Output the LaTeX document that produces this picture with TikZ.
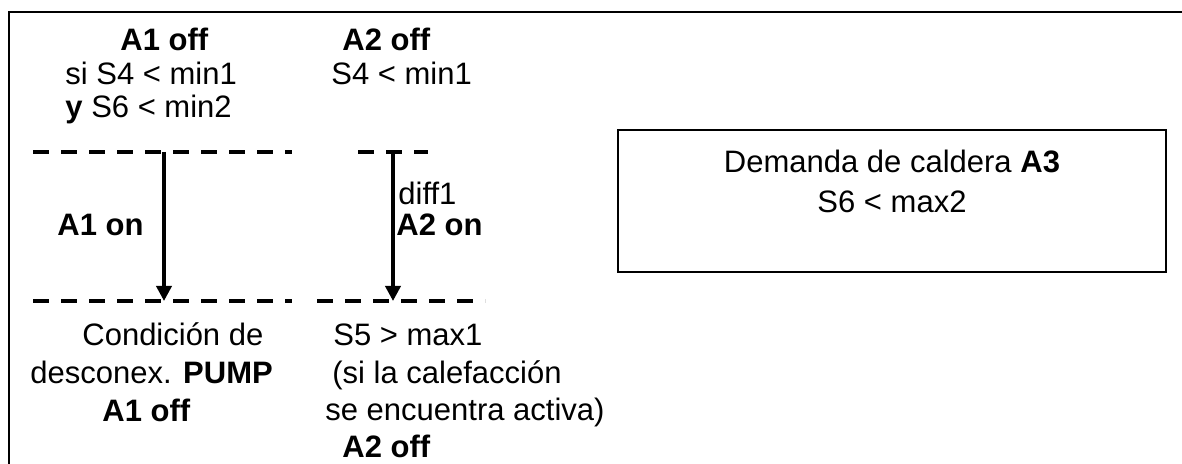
\documentclass[tikz,border=0pt]{standalone}
\usepackage{fontspec}
\setmainfont{Liberation Sans}
\usetikzlibrary{arrows.meta, positioning}

\begin{document}
\begin{tikzpicture}[x=0.5pt, y=-0.5pt,
                    txt/.style= {anchor=base west,
                      inner sep=0pt,
                      font=\fontsize{15.5}{18}\selectfont},
                    ctxt/.style= {txt,
                      anchor=base},
                    cut/.style= {line width=2pt,
                      dash pattern=on 8pt off 6pt},
                    flow/.style= {line width=1.8pt,
                      -{Triangle[length=7.5pt, width=7.5pt]}},
                    frame/.style= {draw,
                      line width=1pt,
                      minimum width=274pt,
                      minimum height=71pt}]

  \useasboundingbox (0,0) rectangle (1182,464);
  \draw[line width=1pt] (1182,12) -| (9,464);

  % upper conditions
  \node[txt] (a1off) at (120,51) {\textbf{A1 off}};
  \node[txt] (a1min) at (65,85) {si S4 < min1};
  \node[txt] (a1and) at (65,118) {\textbf{y} S6 < min2};
  \node[txt] (a2off) at (342,51) {\textbf{A2 off}};
  \node[txt] (a2min) at (331,85) {S4 < min1};

  % thresholds
  \coordinate (up1a) at (33,152);
  \coordinate (up1b) at (292,152);
  \coordinate (up2a) at (358,152);
  \coordinate (up2b) at (428,152);
  \coordinate (lo1a) at (33,301);
  \coordinate (lo1b) at (292,301);
  \coordinate (lo2a) at (317,301);
  \coordinate (lo2b) at (485,301);
  \draw[cut] (up1a) -- (up1b);
  \draw[cut] (up2a) -- (up2b);
  \draw[cut] (lo1a) -- (lo1b);
  \draw[cut] (lo2a) -- (lo2b);

  \coordinate (top1) at (164,152);
  \coordinate (bot1) at (164,301);
  \coordinate (top2) at (393,152);
  \coordinate (bot2) at (393,301);
  \draw[flow] (top1) -- (bot1);
  \draw[flow] (top2) -- (bot2);

  \node[txt] (a1on) at (57,236) {\textbf{A1 on}};
  \node[txt] (diff) at (398,205) {diff1};
  \node[txt] (a2on) at (396,236) {\textbf{A2 on}};

  % lower conditions
  \node[txt] (cond) at (82,346) {Condición de};
  \node[txt] (pump) at (30,383) {desconex. \textbf{PUMP}};
  \node[txt] (a1stop) at (102,421) {\textbf{A1 off}};
  \node[txt] (s5max) at (333,345) {S5 > max1};
  \node[txt] (heat) at (332,383) {(si la calefacción};
  \node[txt] (act) at (325,420) {se encuentra activa)};
  \node[txt] (a2stop) at (342,457) {\textbf{A2 off}};

  % boiler demand
  \node[frame] (boiler) at (892,201.5) {};
  \node[ctxt] (dem) at (892,173) {Demanda de caldera \textbf{A3}};
  \node[ctxt] (s6max) at (892,213) {S6 < max2};
\end{tikzpicture}
\end{document}
